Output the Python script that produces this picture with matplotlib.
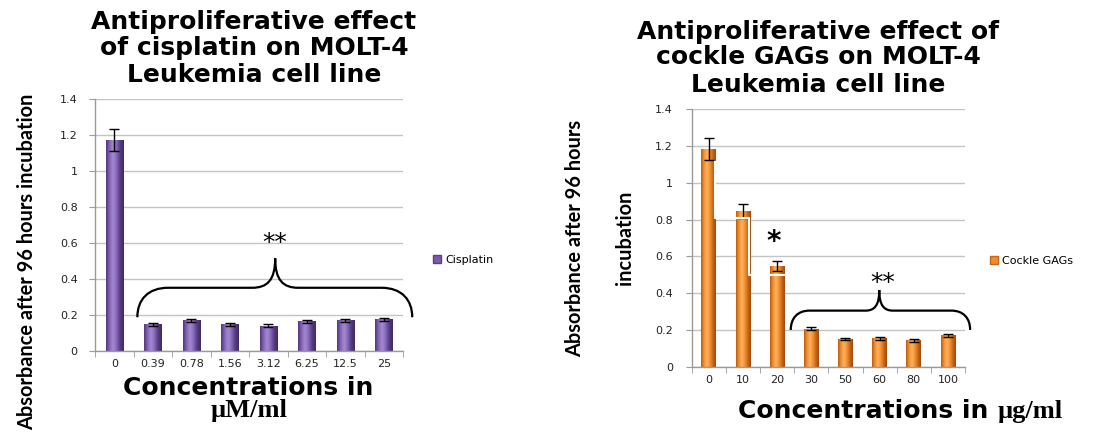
import numpy as np
import matplotlib
matplotlib.use("Agg")
import matplotlib.pyplot as plt
from matplotlib.path import Path
from matplotlib.patches import PathPatch, Patch
from matplotlib.colors import LinearSegmentedColormap
from matplotlib import font_manager
from matplotlib.font_manager import FontProperties

# ---------------- data ----------------
cis_labels = ['0', '0.39', '0.78', '1.56', '3.12', '6.25', '12.5', '25']
cis_values = [1.172, 0.147, 0.170, 0.147, 0.139, 0.163, 0.170, 0.175]
cis_errors = [0.060, 0.008, 0.008, 0.008, 0.008, 0.009, 0.009, 0.009]

gag_labels = ['0', '10', '20', '30', '50', '60', '80', '100']
gag_values = [1.184, 0.848, 0.549, 0.207, 0.149, 0.154, 0.143, 0.171]
gag_errors = [0.059, 0.037, 0.028, 0.010, 0.006, 0.007, 0.006, 0.008]

y_ticks = [0, 0.2, 0.4, 0.6, 0.8, 1.0, 1.2, 1.4]
y_tick_labels = ['0', '0.2', '0.4', '0.6', '0.8', '1', '1.2', '1.4']

W, H = 1110, 432
fig = plt.figure(figsize=(W / 100, H / 100), dpi=100)
fig.patch.set_facecolor('white')
renderer = fig.canvas.get_renderer()


def fx(px):
    return px / W


def fy(py):
    return 1 - py / H


def measure(s, **kw):
    t = fig.text(0, 0, s, **kw)
    bb = t.get_window_extent(renderer)
    t.remove()
    return bb.width, bb.height


# pick the narrowest bold sans face that is installed for the tall y labels
yl_text = 'Absorbance after 96 hours incubation'
best = None
cands = []
for fam in ['Liberation Sans Narrow', 'Noto Sans', 'Open Sans', 'Roboto', 'DejaVu Sans',
            'Inter', 'Lato', 'Liberation Sans']:
    for stretch in ['extra-condensed', 'condensed', 'semi-condensed', 'normal']:
        try:
            fname = font_manager.findfont(FontProperties(family=fam, weight='bold', stretch=stretch),
                                          fallback_to_default=False)
        except Exception:
            continue
        cands.append(fname)
for fname in set(cands):
    fp = FontProperties(fname=fname, size=10)
    try:
        w, _ = measure(yl_text, fontproperties=fp)
    except Exception:
        continue
    if best is None or w < best[1]:
        best = (fname, w)
yl_fname, yl_w10 = best
yl_size = 10 * 337 / yl_w10


def make_axes(rect, labels, values, errors, base, cmap, width, ypad):
    ax = fig.add_axes(rect)
    x = np.arange(len(labels))
    bars = ax.bar(x, values, width=width, color=base, linewidth=0, zorder=2)
    grad = np.linspace(0, 1, 64).reshape(1, -1)
    for b in bars:
        x0, w, h = b.get_x(), b.get_width(), b.get_height()
        im = ax.imshow(grad, extent=[x0, x0 + w, 0, h], aspect='auto', cmap=cmap,
                       zorder=2.1, interpolation='bicubic')
        im.set_clip_path(b)
    ax.errorbar(x, values, yerr=errors, fmt='none', ecolor='black', elinewidth=1.0,
                capsize=3.5, capthick=1.0, zorder=4)
    ax.set_xlim(-0.5, len(labels) - 0.5)
    ax.set_ylim(0, 1.4)
    ax.set_yticks(y_ticks)
    ax.set_yticklabels(y_tick_labels)
    ax.set_xticks(x)
    ax.set_xticklabels(labels)
    ax.set_xticks(np.arange(-0.5, len(labels)), minor=True)
    ax.tick_params(axis='x', which='major', length=0, pad=6, labelsize=8, labelcolor='#222222')
    ax.tick_params(axis='x', which='minor', length=4, color='#9a9a9a', direction='out')
    ax.tick_params(axis='y', length=4, color='#9a9a9a', pad=ypad, labelsize=8, labelcolor='#222222')
    ax.yaxis.grid(True, color='#c4c4c4', linewidth=1.0)
    ax.set_axisbelow(True)
    for s in ['top', 'right']:
        ax.spines[s].set_visible(False)
    for s in ['left', 'bottom']:
        ax.spines[s].set_color('#9a9a9a')
        ax.spines[s].set_linewidth(1.0)
    return ax


def brace(ax, xl, xr, xc, y_end, y_mid, y_tip, r, s, lw=1.6):
    M, C, L = Path.MOVETO, Path.CURVE4, Path.LINETO
    ym = y_mid + 0.25 * (y_tip - y_mid)
    verts = [(xl, y_end), (xl, y_end + 0.6 * (y_mid - y_end)), (xl + 0.35 * r, y_mid), (xl + r, y_mid),
             (xc - s, y_mid),
             (xc - 0.35 * s, y_mid), (xc, ym), (xc, y_tip),
             (xc, ym), (xc + 0.35 * s, y_mid), (xc + s, y_mid),
             (xr - r, y_mid),
             (xr - 0.35 * r, y_mid), (xr, y_end + 0.6 * (y_mid - y_end)), (xr, y_end)]
    codes = [M, C, C, C, L, C, C, C, C, C, C, L, C, C, C]
    ax.add_patch(PathPatch(Path(verts, codes), facecolor='none', edgecolor='black',
                           linewidth=lw, clip_on=False, zorder=5))


purple = '#7b5ba6'
purple_cmap = LinearSegmentedColormap.from_list(
    'p', ['#4f3678', '#8566b8', '#a58bd2', '#8566b8', '#553a80', '#3f2a60'])
orange = '#f08c2c'
orange_cmap = LinearSegmentedColormap.from_list(
    'o', ['#b95b14', '#f2922f', '#fbb262', '#f2922f', '#c8661a', '#9e4a0e'])

# ---------------- left chart ----------------
axL = make_axes([fx(95), fy(350.7), fx(403) - fx(95), (350.7 - 99) / H],
                cis_labels, cis_values, cis_errors, purple, purple_cmap, 0.45, 8.5)
brace(axL, 0.60, 7.74, 4.18, 0.186, 0.35, 0.514, 0.8, 0.6)
axL.text(4.18, 0.597, '**', ha='center', va='center', fontsize=18, clip_on=False, zorder=6)
axL.legend(handles=[Patch(facecolor=purple, edgecolor='#5a3f85')], labels=['Cisplatin'],
           loc='center left', bbox_to_anchor=(fx(433), fy(260)), bbox_transform=fig.transFigure,
           frameon=False, fontsize=8, handlelength=0.7, handleheight=0.7, handletextpad=0.4,
           borderpad=0, borderaxespad=0)

# ---------------- right chart ----------------
axR = make_axes([fx(691.7), fy(366.7), fx(965) - fx(691.7), (366.7 - 109.3) / H],
                gag_labels, gag_values, gag_errors, orange, orange_cmap, 0.43, 9.5)
brace(axR, 2.40, 7.65, 4.99, 0.20, 0.305, 0.417, 0.55, 0.4)
axR.text(5.09, 0.457, '**', ha='center', va='center', fontsize=18, clip_on=False, zorder=6)
axR.text(1.9, 0.68, '*', ha='center', va='center', fontsize=20, fontweight='bold', zorder=6)
step = [(0.18, 1.116), (0.18, 0.807), (1.17, 0.807), (1.17, 0.499), (2.23, 0.499)]
axR.plot([p[0] for p in step], [p[1] for p in step], color='white', linewidth=1.5, zorder=5)
axR.legend(handles=[Patch(facecolor=orange, edgecolor='#c8661a')], labels=['Cockle GAGs'],
           loc='center left', bbox_to_anchor=(fx(990), fy(261)), bbox_transform=fig.transFigure,
           frameon=False, fontsize=8, handlelength=0.7, handleheight=0.7, handletextpad=0.4,
           borderpad=0, borderaxespad=0)

# ---------------- titles ----------------
title_kw = dict(ha='center', va='center', fontsize=18, fontweight='bold', family='DejaVu Sans')
for line, yy in zip(['Antiproliferative effect', 'of cisplatin on MOLT-4', 'Leukemia cell line'],
                    [22.5, 48.5, 75]):
    fig.text(fx(254), fy(yy), line, **title_kw)
for line, yy in zip(['Antiproliferative effect of', 'cockle GAGs on MOLT-4', 'Leukemia cell line'],
                    [32, 57, 85]):
    fig.text(fx(818), fy(yy), line, **title_kw)

# ---------------- x labels ----------------
xl_kw = dict(fontsize=18, fontweight='bold', family='DejaVu Sans')
ser_kw = dict(fontsize=19, fontweight='bold', family=['Liberation Serif', 'DejaVu Serif'])
fig.text(fx(248), fy(395), 'Concentrations in', ha='center', va='baseline', **xl_kw)
fig.text(fx(249), fy(417), 'µM/ml', ha='center', va='baseline', **ser_kw)

w1, _ = measure('Concentrations in', **xl_kw)
w2, _ = measure('µg/ml', **ser_kw)
gap = 9
start = 900 - (w1 + gap + w2) / 2
fig.text(fx(start), fy(418), 'Concentrations in', ha='left', va='baseline', **xl_kw)
fig.text(fx(start + w1 + gap), fy(418), 'µg/ml', ha='left', va='baseline', **ser_kw)

# ---------------- y labels ----------------
yl_fp = FontProperties(fname=yl_fname, size=yl_size)
yl_kw = dict(rotation=90, ha='center', va='center', fontproperties=yl_fp)
fig.text(fx(27), fy(262), yl_text, **yl_kw)
fig.text(fx(575), fy(238), 'Absorbance after 96 hours', **yl_kw)
fig.text(fx(625), fy(238), 'incubation', **yl_kw)

fig.savefig('out.png', dpi=100)
